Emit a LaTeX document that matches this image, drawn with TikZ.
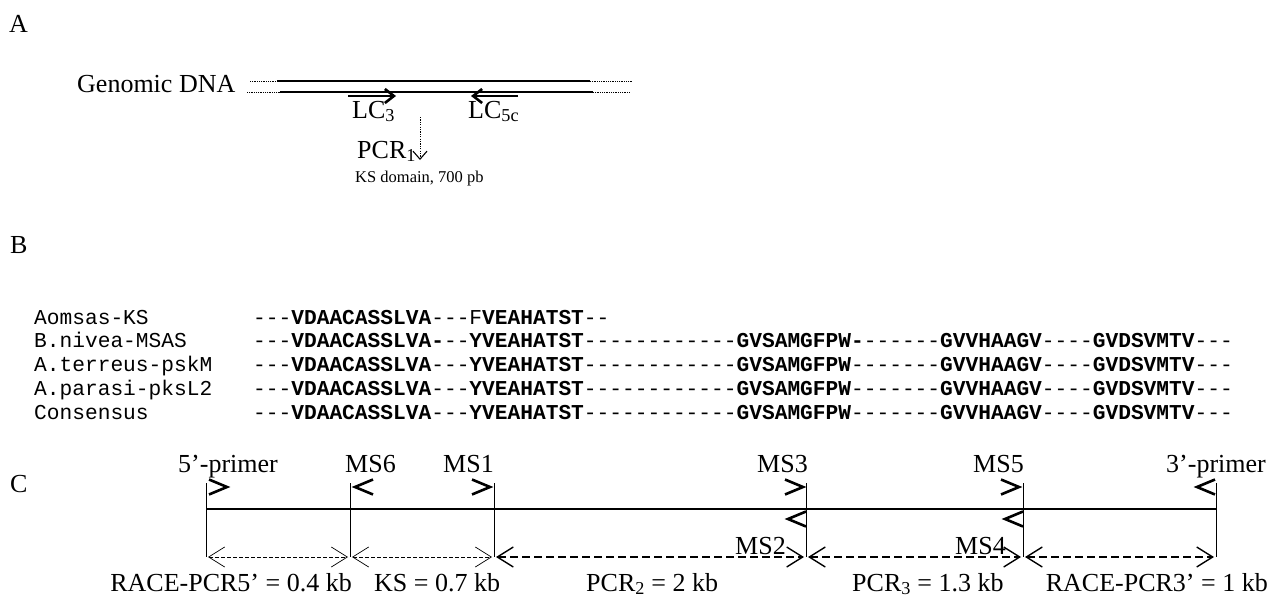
\documentclass[tikz,border=0pt]{standalone}
\usepackage{fontspec}
\setmainfont{Liberation Serif}
\newfontfamily\seqfont{Liberation Mono}
\usetikzlibrary{arrows.meta}
\newcommand\LblFont{\fontsize{26}{30}\selectfont}
\newcommand\SmlFont{\fontsize{16.5}{20}\selectfont}
\newcommand\SeqFont{\seqfont\fontsize{21.2}{24}\selectfont}
\newcommand\Res[1]{\textbf{#1}}
\begin{document}
\begin{tikzpicture}[x=1pt,y=-1pt,
  lbl/.style={inner sep=0pt, font=\LblFont},
  sml/.style={inner sep=0pt, font=\SmlFont},
  seq/.style={inner sep=0pt, font=\SeqFont, anchor=base west},
  strand/.style={line width=2pt},
  dotstrand/.style={line width=0.9pt, dash pattern=on 0.9pt off 0.9pt},
  lcarrow/.style={line width=2.6pt, -{Straight Barb[length=9pt,width=14pt,line width=2.6pt]}},
  pcrarrow/.style={line width=0.9pt, dash pattern=on 1.2pt off 1.2pt, -{Straight Barb[length=8pt,width=14pt,line width=1.1pt]}},
  tick/.style={line width=0.9pt},
  mainline/.style={line width=2.6pt},
  thindim/.style={line width=0.7pt, dash pattern=on 4pt off 2pt, {Straight Barb[length=16pt,width=20pt,line width=0.7pt]}-{Straight Barb[length=16pt,width=20pt,line width=0.7pt]}, shorten <=2pt, shorten >=2pt},
  thickdim/.style={line width=1.4pt, dash pattern=on 8pt off 4pt, {Straight Barb[length=16pt,width=20pt,line width=1.4pt]}-{Straight Barb[length=16pt,width=20pt,line width=1.4pt]}, shorten <=2pt, shorten >=2pt},
  fwdchev/.pic={\draw[line width=2.6pt] (-18,-7.5) -- (0,0) -- (-18,7.5);},
  revchev/.pic={\draw[line width=2.6pt] (18,-7.5) -- (0,0) -- (18,7.5);}
]
\useasboundingbox (0,0) rectangle (1272,597);

% ---------------- A ----------------
\node[lbl, anchor=base west] (labA) at (9,32) {A};
\node[lbl, anchor=base west] (gdna) at (77,92) {Genomic DNA};
\coordinate (ta0) at (250,81); \coordinate (ta1) at (277,81);
\coordinate (ta2) at (590,81); \coordinate (ta3) at (632,81);
\coordinate (ba0) at (247,92); \coordinate (ba1) at (280,92);
\coordinate (ba2) at (593,92); \coordinate (ba3) at (630,92);
\draw[dotstrand] (ta0) -- (ta1);
\draw[strand] (ta1) -- (ta2);
\draw[dotstrand] (ta2) -- (ta3);
\draw[dotstrand] (ba0) -- (ba1);
\draw[strand] (ba1) -- (ba2);
\draw[dotstrand] (ba2) -- (ba3);
\coordinate (lc3s) at (348,96); \coordinate (lc3e) at (396,96);
\coordinate (lc5s) at (518,96); \coordinate (lc5e) at (471,96);
\draw[lcarrow] (lc3s) -- (lc3e);
\draw[lcarrow] (lc5s) -- (lc5e);
\node[lbl, anchor=base west] (lc3) at (352,118) {LC\textsubscript{3}};
\node[lbl, anchor=base west] (lc5c) at (468,118) {LC\textsubscript{5c}};
\coordinate (pcrs) at (420,117); \coordinate (pcre) at (420,160);
\draw[pcrarrow] (pcrs) -- (pcre);
\node[lbl, anchor=base west] (pcr1) at (357,158) {PCR\textsubscript{1}};
\node[sml, anchor=base west] (ksd) at (355,182) {KS domain, 700 pb};

% ---------------- B ----------------
\node[lbl, anchor=base west] (labB) at (10,253) {B};
\node[seq] (n1) at (34,324) {Aomsas-KS};
\node[seq] (n2) at (34,347.9) {B.nivea-MSAS};
\node[seq] (n3) at (34,371.8) {A.terreus-pskM};
\node[seq] (n4) at (34,395.7) {A.parasi-pksL2};
\node[seq] (n5) at (34,419.6) {Consensus};
\node[seq] (s1) at (253,324) {---\Res{VDAACASSLVA}---F\Res{VEAHATST}--};
\node[seq] (s2) at (253,347.9) {---\Res{VDAACASSLVA-}--\Res{YVEAHATST}------------\Res{GVSAMGFPW-}------\Res{GVVHAAGV}----\Res{GVDSVMTV}---};
\node[seq] (s3) at (253,371.8) {---\Res{VDAACASSLVA}---\Res{YVEAHATST}------------\Res{GVSAMGFPW}-------\Res{GVVHAAGV}----\Res{GVDSVMTV}---};
\node[seq] (s4) at (253,395.7) {---\Res{VDAACASSLVA}---\Res{YVEAHATST}------------\Res{GVSAMGFPW}-------\Res{GVVHAAGV}----\Res{GVDSVMTV}---};
\node[seq] (s5) at (253,419.6) {---\Res{VDAACASSLVA}---\Res{YVEAHATST}------------\Res{GVSAMGFPW}-------\Res{GVVHAAGV}----\Res{GVDSVMTV}---};

% ---------------- C ----------------
\node[lbl, anchor=base west] (labC) at (10,492) {C};
\foreach \i/\x in {1/206,2/350,3/494,4/806,5/1023,6/1216}{
  \coordinate (t\i a) at (\x,483);
  \coordinate (t\i m) at (\x,509);
  \coordinate (t\i b) at (\x,557);
  \draw[tick] (t\i a) -- (t\i b);
}
\draw[mainline] (t1m) -- (t6m);
% primers
\pic at (227,487) {fwdchev};
\pic at (355,487) {revchev};
\pic at (490,487) {fwdchev};
\pic at (803,487) {fwdchev};
\pic at (1019,487) {fwdchev};
\pic at (1197,487) {revchev};
\pic at (788,519) {revchev};
\pic at (1005,519) {revchev};
\node[lbl, anchor=base west] (p5) at (178,472) {5’-primer};
\node[lbl, anchor=base west] (ms6) at (345,472) {MS6};
\node[lbl, anchor=base east] (ms1) at (494,472) {MS1};
\node[lbl, anchor=base east] (ms3) at (808,472) {MS3};
\node[lbl, anchor=base east] (ms5) at (1024,472) {MS5};
\node[lbl, anchor=base east] (p3) at (1266,472) {3’-primer};
\node[lbl, anchor=base east] (ms2) at (786,554) {MS2};
\node[lbl, anchor=base east] (ms4) at (1006,554) {MS4};
% dimension arrows
\draw[thindim] (t1b) -- (t2b);
\draw[thindim] (t2b) -- (t3b);
\draw[thickdim] (t3b) -- (t4b);
\draw[thickdim] (t4b) -- (t5b);
\draw[thickdim] (t5b) -- (t6b);
\node[lbl, anchor=base east] (d1) at (352,591) {RACE-PCR5’ = 0.4 kb};
\node[lbl, anchor=base west] (d2) at (374,591) {KS = 0.7 kb};
\node[lbl, anchor=base west] (d3) at (586,591) {PCR\textsubscript{2} = 2 kb};
\node[lbl, anchor=base west] (d4) at (852,591) {PCR\textsubscript{3} = 1.3 kb};
\node[lbl, anchor=base east] (d5) at (1268,591) {RACE-PCR3’ = 1 kb};
\end{tikzpicture}
\end{document}
